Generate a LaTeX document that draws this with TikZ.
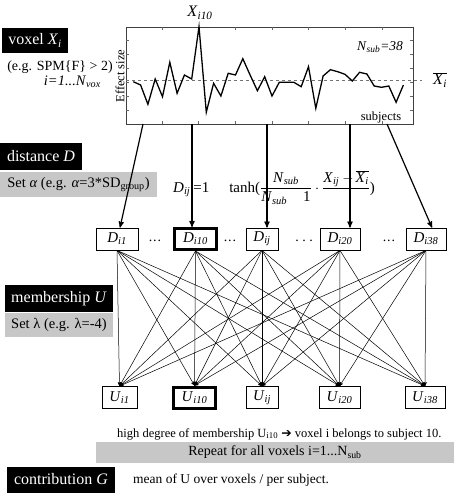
\documentclass[tikz,border=0pt]{standalone}
\usepackage{fontspec}
\setmainfont{Liberation Serif}
\newfontfamily\arrowfont{DejaVu Sans}
\usepackage{tikz}
\usetikzlibrary{positioning}
\usetikzlibrary{arrows,shapes}
\usetikzlibrary{calc}
\newcommand{\ivar}[2]{\textit{#1}\textsubscript{\textit{#2}}}
\tikzstyle{vertex}=[draw,fill=white,line width=0.8pt,minimum height=22pt,inner sep=0pt,font=\fontsize{15}{17}\selectfont]
\tikzstyle{boldvertex}=[vertex,line width=3pt,minimum height=21pt]
\tikzstyle{title}=[fill=black,text=white,inner sep=0pt,font=\fontsize{16}{18}\selectfont]
\tikzstyle{setting}=[fill=black!22,inner sep=0pt,font=\fontsize{14.5}{16}\selectfont]
\tikzstyle{note}=[inner sep=0pt,font=\fontsize{14.5}{16}\selectfont]
\tikzstyle{plotlabel}=[inner sep=0pt,font=\fontsize{12.5}{14}\selectfont]
\tikzstyle{edge} = [draw,line width=1.2pt,->,>=stealth']
\tikzstyle{thinedge} = [draw,line width=0.5pt,->,>=stealth']
\tikzstyle{tick} = [draw,black!60,line width=0.4pt]

\begin{document}
\begin{tikzpicture}[x=1pt,y=-1pt]
    \useasboundingbox (0,0) rectangle (454,493);

    % headings on the left
    \foreach \pos/\name/\w/\h/\label in {{(35,40.5)/voxel/66/25/{voxel \ivar{X}{i}}}, {(41,156.5)/distance/82/27/{distance \textit{D}}},
        {(59,298.5)/membership/108/27/{membership \textit{U}}}, {(61,479.5)/contribution/108/26/{contribution \textit{G}}}}
        \node[title, minimum width=\w pt, minimum height=\h pt] (\name) at \pos {\label};

    \node[setting, minimum width=157pt, minimum height=25pt] (setalpha) at (78.5,184.5) {Set \textit{α} (e.g. \textit{α}=3*SD\textsubscript{group})};
    \node[setting, minimum width=108pt, minimum height=24pt] (setlambda) at (59,325) {Set λ (e.g. λ=-4)};
    \node[setting, minimum width=358pt, minimum height=21pt, font=\fontsize{14}{16}\selectfont] (repeat) at (275,452.5) {Repeat for all voxels i=1...N\textsubscript{sub}};

    \node[note, font=\fontsize{14}{16}\selectfont] (spm) at (60,67) {(e.g. SPM\{F\} > 2)};
    \node[note, anchor=east] (nvox) at (101,82) {\textit{i=1...N}\textsubscript{\textit{vox}}};

    % effect size plot
    \draw[black!75, line width=0.6pt] (126,27) rectangle (413,124);
    \foreach \y in {40,54,68,82,96,110} {
        \draw[tick] (126,\y) -- (129,\y);
        \draw[tick] (413,\y) -- (410,\y);
    }
    \foreach \x in {162,198,235,272,308,345,382} {
        \draw[tick] (\x,27) -- (\x,30);
        \draw[tick] (\x,124) -- (\x,121);
    }
    \draw[black!55, dashed, line width=0.5pt] (126,80) -- (422,80);
    \draw[line width=1.3pt] (133.3,81.7) \foreach \y [count=\j from 1] in {85,104.3,79,96.7,62.3,93.3,75,79,26.7,112.3,83.3,96,73.3,75,58.7,75,90.7,76.7,96,82.3,82.3,82.3,86.7,66.7,108.3,76,69.7,71.7,74.3,81,72.3,74,86,87.3,86,102.3,85} { -- ({133.3+7.3*\j},\y) };

    \node[plotlabel, rotate=90] (effect) at (120,76) {Effect size};
    \node[plotlabel, font=\fontsize{13.5}{15}\selectfont] (nsub) at (380,47) {\ivar{N}{sub}\textit{=38}};
    \node[plotlabel] (subjects) at (381,117) {subjects};
    \node[inner sep=0pt, font=\fontsize{16}{18}\selectfont] (xi10) at (200,13) {\ivar{X}{i10}};
    \node[inner sep=0pt, font=\fontsize{16}{18}\selectfont] (xmean) at (440,80) {$\overline{\mbox{\ivar{X}{i}}}$};

    % distance formula
    \node[inner sep=0pt, anchor=base west, font=\fontsize{15}{17}\selectfont] (formula) at (173,192)
        {\ivar{D}{ij}\hspace{3pt}=1\hspace{20pt}tanh($\displaystyle\frac{\mbox{\ivar{N}{sub}}}{\mbox{\ivar{N}{sub}\hspace{16pt}1}}\cdot\frac{\mbox{\ivar{X}{ij}\hspace{3pt}$-$\hspace{2pt}$\overline{\mbox{\ivar{X}{i}}}$}}{}$)};

    % distance and membership boxes
    \foreach \pos/\name/\w/\label in {{(117,239)/Di1/42/{\ivar{D}{i1}}}, {(262,239)/Dij/32/{\ivar{D}{ij}}}, {(340,239)/Di20/40/{\ivar{D}{i20}}}, {(426,239)/Di38/40/{\ivar{D}{i38}}},
        {(119.5,397.5)/Ui1/35/{\ivar{U}{i1}}}, {(262,397.5)/Uij/32/{\ivar{U}{ij}}}, {(339.5,397.5)/Ui20/41/{\ivar{U}{i20}}}, {(425,397.5)/Ui38/40/{\ivar{U}{i38}}}}
        \node[vertex, minimum width=\w pt] (\name) at \pos {\label};

    \foreach \pos/\name/\label in {{(195.5,239)/Di10/{\ivar{D}{i10}}}, {(194.5,397.5)/Ui10/{\ivar{U}{i10}}}}
        \node[boldvertex, minimum width=42pt] (\name) at \pos {\label};

    \foreach \pos/\name/\label in {{(155,241)/dotsA/{.\kern1pt.\kern1pt.}}, {(230,241)/dotsB/{.\kern1pt.\kern1pt.}}, {(304,241)/dotsC/{.\ .\ .}}, {(389,241)/dotsD/{.\kern1pt.\kern1pt.}}}
        \node[note, font=\fontsize{14}{16}\selectfont] (\name) at \pos {\label};

    % arrows from the plot
    \foreach \name/\x in {s1/143, s2/192, s3/267, s4/350, s5/387}
        \coordinate (\name) at (\x,124);
    \path[edge] (s1) -- ($(Di1.north)+(3,0)$);
    \path[edge] (s2) -- (s2 |- Di10.north);
    \path[edge] (s3) -- (s3 |- Dij.north);
    \path[edge] (s4) -- (s4 |- Di20.north);
    \path[edge] (s5) -- ($(Di38.north)+(6,0)$);

    \foreach \source in {Di1, Di10, Dij, Di20, Di38}
        \foreach \dest in {Ui1, Ui10, Uij, Ui20, Ui38}
            \path[thinedge] (\source.south) -- (\dest.north);

    \node[note, anchor=base west, font=\fontsize{12.5}{14}\selectfont] (high) at (117,437)
        {high degree of membership U\textsubscript{i10} {\arrowfont ➔} voxel i belongs to subject 10.};
    \node[note, anchor=base west, font=\fontsize{13.5}{15}\selectfont] (mean) at (133,483) {mean of U over voxels / per subject.};
\end{tikzpicture}
\end{document}
